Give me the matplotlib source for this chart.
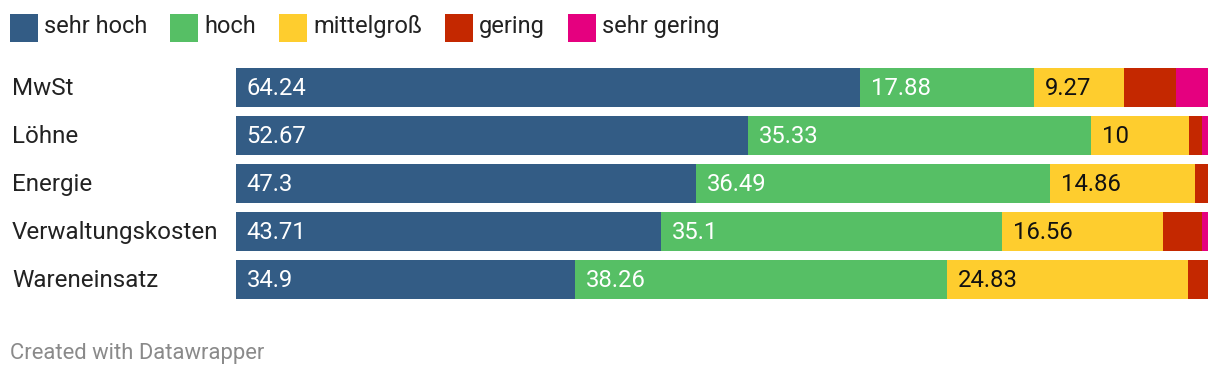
import matplotlib
matplotlib.use("Agg")
import matplotlib.pyplot as plt
from matplotlib.patches import Rectangle
from matplotlib.transforms import blended_transform_factory

categories = ["MwSt", "Löhne", "Energie", "Verwaltungskosten", "Wareneinsatz"]
series_names = ["sehr hoch", "hoch", "mittelgroß", "gering", "sehr gering"]
sehr_hoch = [64.24, 52.67, 47.3, 43.71, 34.9]
hoch = [17.88, 35.33, 36.49, 35.1, 38.26]
mittelgross = [9.27, 10, 14.86, 16.56, 24.83]
gering = [5.32, 1.4, 1.35, 4.03, 2.01]
sehr_gering = [3.29, 0.6, 0.0, 0.6, 0.0]

colors = ["#335c85", "#56bf65", "#fecd2e", "#c42800", "#e5007f"]
text_colors = ["white", "white", "#111111", "white", "white"]

plt.rcParams["font.family"] = ["Roboto", "DejaVu Sans"]

W, H = 1220, 378
fig = plt.figure(figsize=(W / 100, H / 100), dpi=100)
fig.patch.set_facecolor("white")

# bar area in pixel coordinates
left, right, top, bottom = 236, 1208, 63.5, 303.5
ax = fig.add_axes([left / W, 1 - bottom / H, (right - left) / W, (bottom - top) / H])
ax.set_xlim(0, 100)
ax.set_ylim(len(categories) - 0.5, -0.5)
ax.axis("off")

data = [sehr_hoch, hoch, mittelgross, gering, sehr_gering]
starts = [0.0] * len(categories)
for vals, col, tcol in zip(data, colors, text_colors):
    ax.barh(range(len(categories)), vals, left=starts, height=0.8125,
            color=col, linewidth=0)
    for i, v in enumerate(vals):
        if v >= 6:
            ax.text(starts[i] + 1.1, i + 0.02, f"{v:g}", color=tcol,
                    fontsize=17.2, va="center", ha="left")
    starts = [s + v for s, v in zip(starts, vals)]

# category labels
tr = blended_transform_factory(fig.transFigure, ax.transData)
for i, c in enumerate(categories):
    fig.text(12 / W, i + 0.02, c, transform=tr, fontsize=17.4, va="center",
             ha="left", color="#222222")

# legend along the top
fig.canvas.draw()
renderer = fig.canvas.get_renderer()
x = 10
for name, col in zip(series_names, colors):
    fig.add_artist(Rectangle((x / W, 1 - 42 / H), 28 / W, 28 / H,
                             transform=fig.transFigure, color=col, lw=0))
    t = fig.text((x + 34) / W, 1 - 26.5 / H, name, fontsize=17, va="center",
                 ha="left", color="#222222")
    bb = t.get_window_extent(renderer)
    x = bb.x1 + 23

fig.text(10 / W, 1 - 353 / H, "Created with Datawrapper", fontsize=15.8,
         color="#8a8a8a", va="center", ha="left")

fig.savefig("out.png", dpi=100)
